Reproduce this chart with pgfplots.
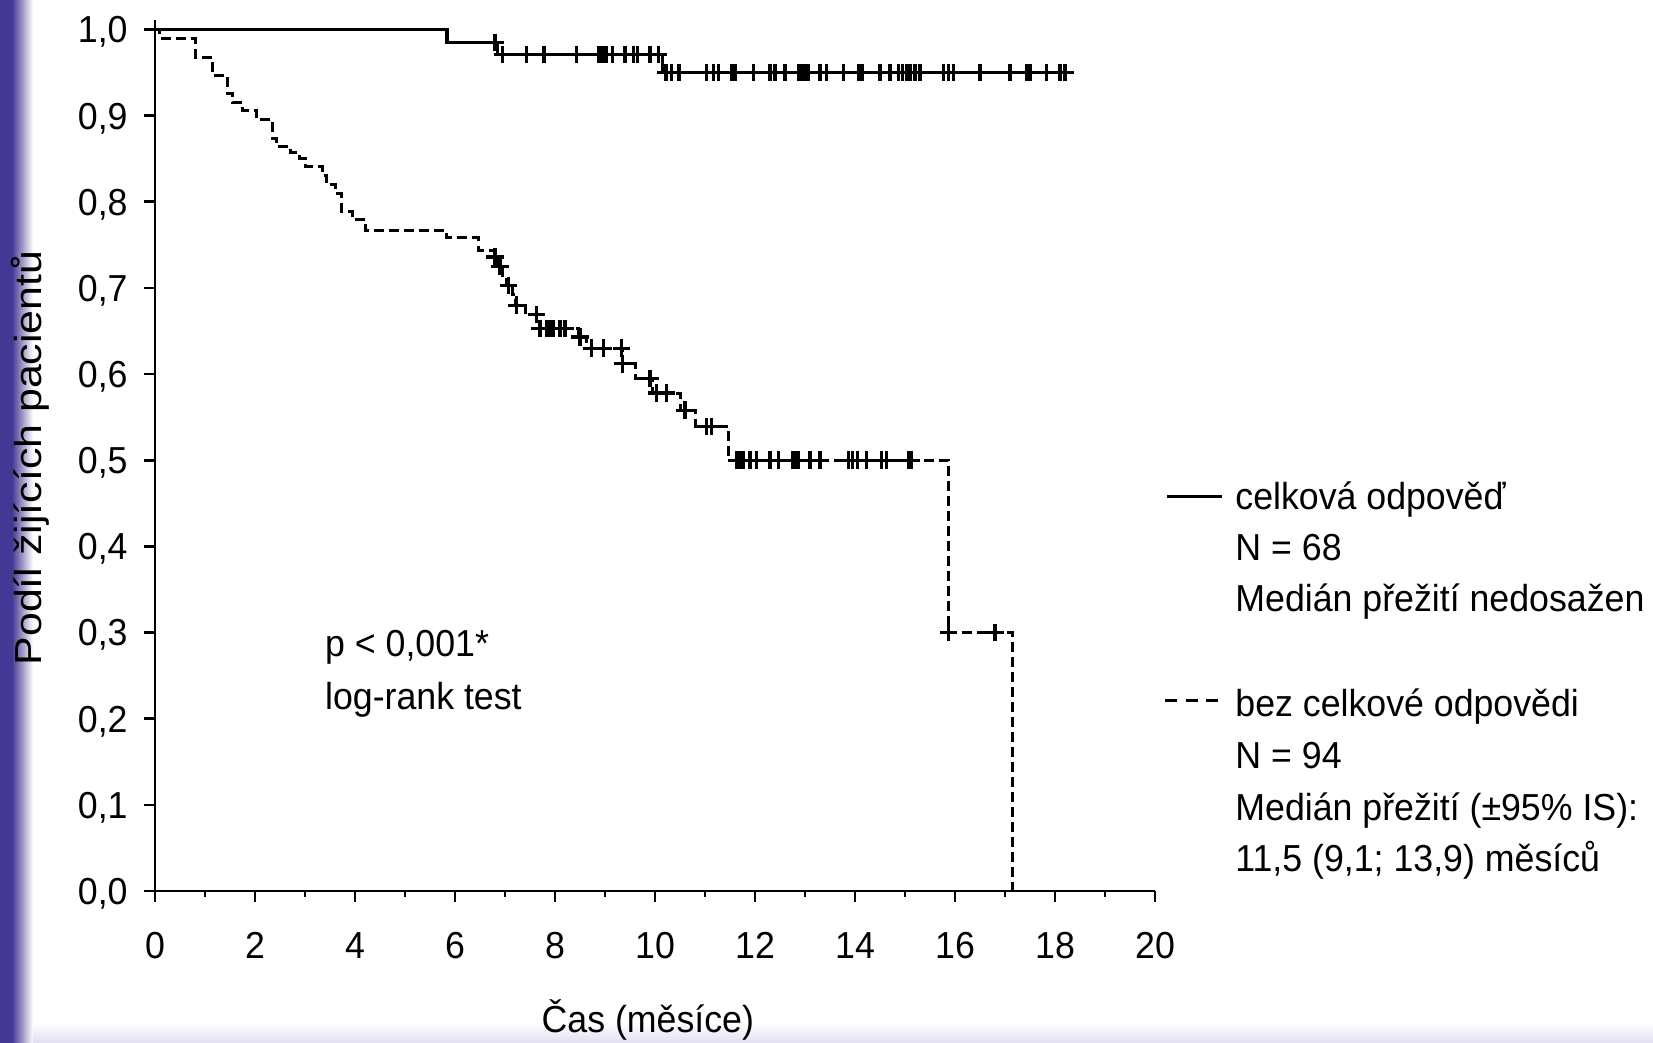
\documentclass[border=0pt]{standalone}
\usepackage{pgfplots}
\pgfplotsset{compat=1.18}
\usepackage{fontspec}
\setmainfont{Liberation Sans}[FakeStretch=0.95]
\newfontfamily\ylabfont{Liberation Sans}[FakeStretch=1.14]
\definecolor{slideblue}{RGB}{68,56,150}
\definecolor{slidelav}{RGB}{226,223,240}

\begin{document}
\fontsize{18.8pt}{22pt}\selectfont
\begin{tikzpicture}
\shade[bottom color=slidelav, top color=white] (-77.5pt,-76pt) rectangle (749pt,-65.5pt);
\fill[slideblue] (-77.5pt,-76pt) rectangle (-71.5pt,445.5pt);
\shade[left color=slideblue, right color=white] (-71.5pt,-76pt) rectangle (-61pt,445.5pt);
\begin{axis}[
  at={(0pt,0pt)}, anchor=south west,
  x=25pt, y=430.75pt,
  xmin=0, xmax=20, ymin=0, ymax=1.0105,
  clip=false,
  axis lines=left,
  axis line style={-, line width=1.3pt},
  tick align=outside,
  major tick length=5.5pt, minor tick length=2.8pt,
  tick style={line width=1.3pt, black},
  xtick={0,2,...,20},
  minor xtick={1,3,...,19},
  ytick={0,0.1,0.2,0.3,0.4,0.5,0.6,0.7,0.8,0.9,1},
  scaled ticks=false,
  /pgf/number format/assume math mode=true,
  xticklabel style={anchor=base, inner sep=0pt, yshift=-28.3pt, /pgf/number format/.cd, fixed, precision=0},
  yticklabel style={anchor=base east, inner sep=0pt, xshift=-8pt, yshift=-6.7pt, /pgf/number format/.cd, fixed, fixed zerofill, precision=1, use comma},
  xlabel={Čas (měsíce)},
  xlabel style={at={(axis description cs:0.4928,-0.1631)}, anchor=base, inner sep=0pt},
  ylabel={\ylabfont Podíl žijících pacientů},
  ylabel style={at={(axis description cs:-0.1135,0.4974)}, anchor=base, inner sep=0pt},
]
% celková odpověď (solid)
\addplot[const plot, line width=1.6pt] coordinates {
(0,1) (5.84,0.985) (6.85,0.971) (10.15,0.950) (18.3,0.950)};
\addplot[only marks, mark=+, mark size=4.4pt, mark options={solid, line width=1.6pt}] coordinates {
(6.8,0.985)
(6.95,0.971) (7.43,0.971) (7.78,0.971) (8.43,0.971) (8.88,0.971) (8.95,0.971) (9.02,0.971)
(9.15,0.971) (9.4,0.971) (9.57,0.971) (9.65,0.971) (9.9,0.971) (10.07,0.971)
(10.22,0.950) (10.33,0.950) (10.48,0.950) (11.03,0.950) (11.17,0.950) (11.27,0.950)
(11.53,0.950) (11.6,0.950) (11.97,0.950) (12.3,0.950) (12.4,0.950) (12.6,0.950)
(12.87,0.950) (12.93,0.950) (13.0,0.950) (13.07,0.950) (13.3,0.950) (13.43,0.950)
(13.77,0.950) (14.08,0.950) (14.15,0.950) (14.5,0.950) (14.7,0.950) (14.87,0.950)
(14.95,0.950) (15.03,0.950) (15.1,0.950) (15.2,0.950) (15.3,0.950) (15.77,0.950)
(15.87,0.950) (15.97,0.950) (16.5,0.950) (17.1,0.950) (17.43,0.950) (17.5,0.950)
(17.83,0.950) (18.1,0.950) (18.2,0.950)};
% bez celkové odpovědi (dashed)
\addplot[const plot, line width=1.5pt, dash pattern=on 5pt off 2.5pt] coordinates {
(0,1) (0.1,0.989) (0.8,0.968) (1.15,0.947) (1.45,0.926) (1.55,0.915) (1.75,0.906)
(2.03,0.895) (2.35,0.874) (2.42,0.864) (2.7,0.857) (2.88,0.850) (3.0,0.841)
(3.35,0.830) (3.42,0.820) (3.6,0.810) (3.72,0.789) (3.95,0.779) (4.2,0.767)
(5.83,0.758) (6.47,0.744) (6.78,0.736) (6.86,0.725) (6.95,0.714) (7.03,0.703)
(7.15,0.692) (7.2,0.680) (7.4,0.669) (7.68,0.653) (8.47,0.643) (8.63,0.630)
(9.35,0.612) (9.6,0.595) (9.95,0.578) (10.5,0.558) (10.8,0.539) (11.47,0.500)
(15.87,0.300) (17.15,0.0)};
\addplot[only marks, mark=+, mark size=4.4pt, mark options={solid, line width=1.6pt}] coordinates {
(6.8,0.736) (6.9,0.725) (7.07,0.703) (7.23,0.680) (7.63,0.669)
(7.7,0.653) (7.83,0.653) (7.9,0.653) (7.97,0.653) (8.1,0.653) (8.2,0.653)
(8.5,0.643) (8.73,0.630) (8.97,0.630) (9.33,0.630) (9.35,0.612) (9.9,0.595)
(10.03,0.578) (10.23,0.578) (10.6,0.558) (11.03,0.539) (11.13,0.539)
(11.63,0.5) (11.7,0.5) (11.77,0.5) (11.9,0.5) (12.03,0.5) (12.3,0.5) (12.47,0.5)
(12.75,0.5) (12.8,0.5) (12.87,0.5) (13.1,0.5) (13.3,0.5) (13.87,0.5) (13.95,0.5)
(14.05,0.5) (14.23,0.5) (14.53,0.5) (14.63,0.5) (15.07,0.5) (15.13,0.5)
(15.87,0.3) (16.8,0.3)};
% legend
\draw[line width=1.5pt] (axis cs:20.23,0.4577) -- (axis cs:21.33,0.4577);
\draw[line width=1.5pt, dash pattern=on 6pt off 4.25pt] (axis cs:20.2,0.2217) -- (axis cs:21.26,0.2217);
\node[anchor=base west, inner sep=0pt] at (axis cs:21.6,0.4423) {celková odpověď};
\node[anchor=base west, inner sep=0pt] at (axis cs:21.6,0.3842) {N = 68};
\node[anchor=base west, inner sep=0pt] at (axis cs:21.6,0.3242) {Medián přežití nedosažen};
\node[anchor=base west, inner sep=0pt] at (axis cs:21.6,0.2023) {bez celkové odpovědi};
\node[anchor=base west, inner sep=0pt] at (axis cs:21.6,0.1424) {N = 94};
\node[anchor=base west, inner sep=0pt] at (axis cs:21.6,0.0824) {Medián přežití (±95\% IS):};
\node[anchor=base west, inner sep=0pt] at (axis cs:21.6,0.0224) {11,5 (9,1; 13,9) měsíců};
% p-value
\node[anchor=base west, inner sep=0pt] at (axis cs:3.394,0.2719) {p < 0,001*};
\node[anchor=base west, inner sep=0pt] at (axis cs:3.394,0.2107) {log-rank test};
\end{axis}
\pgfresetboundingbox
\path (-77.5pt,-76pt) rectangle (749pt,445.5pt);
\end{tikzpicture}
\end{document}
